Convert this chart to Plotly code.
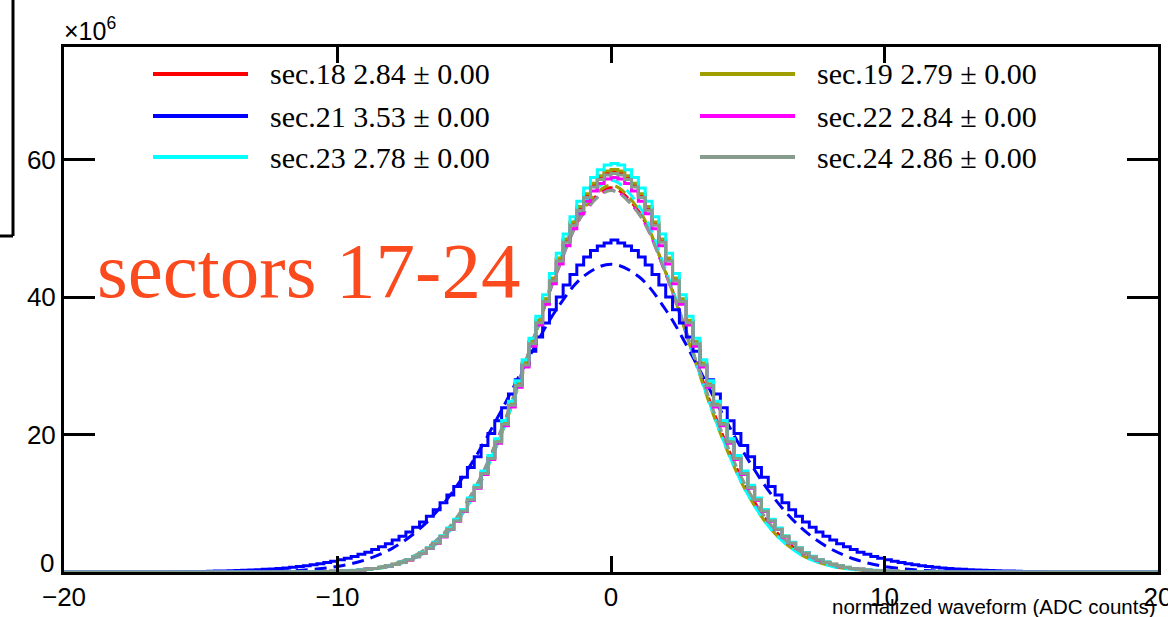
import numpy as np
import plotly.graph_objects as go

# ---------------- data (counts in units of 10^6, bin width 0.25) ----------------
X_MIN, X_MAX, BIN_W = -20.0, 20.0, 0.25

SERIES = ["sec.18", "sec.19", "sec.21", "sec.22", "sec.23", "sec.24"]
SIGMA_TXT = ["2.84", "2.79", "3.53", "2.84", "2.78", "2.86"]
ERR_TXT = ["0.00", "0.00", "0.00", "0.00", "0.00", "0.00"]
COLORS = ["#FF0000", "#9E9E00", "#0000FF", "#FF00FF", "#00FFFF", "#879C8C"]

# first bin lower edge of each listed block (bins outside are empty)
START_NARROW = -12.0
START_WIDE = -16.0

sec18 = [0.01, 0.02, 0.02, 0.03, 0.04, 0.05, 0.07, 0.10, 0.13, 0.17, 0.23, 0.30, 0.39, 0.51, 0.67, 0.86,
         1.11, 1.41, 1.78, 2.24, 2.79, 3.46, 4.25, 5.18, 6.26, 7.51, 8.93, 10.55, 12.37, 14.39, 16.61, 19.02,
         21.62, 24.37, 27.28, 30.28, 33.37, 36.47, 39.57, 42.59, 45.49, 48.21, 50.70, 52.91, 54.78, 56.29,
         57.40, 58.07, 58.29,
         58.07, 57.40, 56.29, 54.78, 52.91, 50.70, 48.21, 45.49, 42.59, 39.57, 36.47, 33.37, 30.28, 27.28,
         24.37, 21.62, 19.02, 16.61, 14.39, 12.37, 10.55, 8.93, 7.51, 6.26, 5.18, 4.25, 3.46, 2.79, 2.24,
         1.78, 1.41, 1.11, 0.86, 0.67, 0.51, 0.39, 0.30, 0.23, 0.17, 0.13, 0.10, 0.07, 0.05, 0.04, 0.03,
         0.02, 0.02]
sec19 = [0.01, 0.02, 0.02, 0.03, 0.04, 0.05, 0.07, 0.10, 0.13, 0.17, 0.23, 0.30, 0.39, 0.52, 0.68, 0.87,
         1.11, 1.41, 1.79, 2.25, 2.81, 3.47, 4.27, 5.20, 6.29, 7.54, 8.98, 10.61, 12.43, 14.46, 16.70, 19.12,
         21.73, 24.49, 27.41, 30.43, 33.53, 36.65, 39.76, 42.80, 45.71, 48.45, 50.95, 53.18, 55.06, 56.57,
         57.68, 58.36, 58.58,
         58.36, 57.68, 56.57, 55.06, 53.18, 50.95, 48.45, 45.71, 42.80, 39.76, 36.65, 33.53, 30.43, 27.41,
         24.49, 21.73, 19.12, 16.70, 14.46, 12.43, 10.61, 8.98, 7.54, 6.29, 5.20, 4.27, 3.47, 2.81, 2.25,
         1.79, 1.41, 1.11, 0.87, 0.68, 0.52, 0.39, 0.30, 0.23, 0.17, 0.13, 0.10, 0.07, 0.05, 0.04, 0.03,
         0.02, 0.02]
sec21 = [0.04, 0.05, 0.06, 0.07, 0.09, 0.11, 0.13, 0.15, 0.18, 0.21, 0.24, 0.28, 0.33, 0.39, 0.45, 0.52,
         0.60, 0.69, 0.80, 0.91, 1.05, 1.20, 1.37, 1.56, 1.77, 2.01, 2.27, 2.57, 2.89, 3.27, 3.67, 4.12,
         4.64, 5.19, 5.82, 6.52, 7.29, 8.13, 9.06, 10.09, 11.22, 12.44, 13.78, 15.21, 16.76, 18.40, 20.16,
         22.00, 23.92, 25.91, 27.96, 30.03, 32.12, 34.19, 36.22, 38.17, 40.03, 41.75, 43.31, 44.69, 45.85,
         46.77, 47.45, 47.86, 48.30,
         47.86, 47.45, 46.77, 45.85, 44.69, 43.31, 41.75, 40.03, 38.17, 36.22, 34.19, 32.12, 30.03, 27.96,
         25.91, 23.92, 22.00, 20.16, 18.40, 16.76, 15.21, 13.78, 12.44, 11.22, 10.09, 9.06, 8.13, 7.29,
         6.52, 5.82, 5.19, 4.64, 4.12, 3.67, 3.27, 2.89, 2.57, 2.27, 2.01, 1.77, 1.56, 1.37, 1.20, 1.05,
         0.91, 0.80, 0.69, 0.60, 0.52, 0.45, 0.39, 0.33, 0.28, 0.24, 0.21, 0.18, 0.15, 0.13, 0.11, 0.09,
         0.07, 0.06, 0.05]
sec22 = [0.01, 0.02, 0.02, 0.03, 0.04, 0.05, 0.07, 0.10, 0.13, 0.17, 0.23, 0.30, 0.39, 0.50, 0.66, 0.85,
         1.09, 1.39, 1.75, 2.21, 2.75, 3.41, 4.19, 5.10, 6.17, 7.40, 8.80, 10.40, 12.19, 14.18, 16.36, 18.74,
         21.29, 24.01, 26.87, 29.83, 32.87, 35.93, 38.98, 41.96, 44.81, 47.49, 49.95, 52.12, 53.96, 55.45,
         56.54, 57.20, 57.42,
         57.20, 56.54, 55.45, 53.96, 52.12, 49.95, 47.49, 44.81, 41.96, 38.98, 35.93, 32.87, 29.83, 26.87,
         24.01, 21.29, 18.74, 16.36, 14.18, 12.19, 10.40, 8.80, 7.40, 6.17, 5.10, 4.19, 3.41, 2.75, 2.21,
         1.75, 1.39, 1.09, 0.85, 0.66, 0.50, 0.39, 0.30, 0.23, 0.17, 0.13, 0.10, 0.07, 0.05, 0.04, 0.03,
         0.02, 0.02]
sec23 = [0.01, 0.02, 0.02, 0.03, 0.04, 0.05, 0.07, 0.10, 0.13, 0.17, 0.24, 0.31, 0.40, 0.52, 0.69, 0.88,
         1.13, 1.44, 1.81, 2.29, 2.85, 3.53, 4.34, 5.28, 6.39, 7.66, 9.11, 10.76, 12.62, 14.68, 16.94, 19.40,
         22.05, 24.86, 27.82, 30.88, 34.03, 37.20, 40.35, 43.44, 46.39, 49.17, 51.71, 53.97, 55.87, 57.41,
         58.54, 59.22, 59.45,
         59.22, 58.54, 57.41, 55.87, 53.97, 51.71, 49.17, 46.39, 43.44, 40.35, 37.20, 34.03, 30.88, 27.82,
         24.86, 22.05, 19.40, 16.94, 14.68, 12.62, 10.76, 9.11, 7.66, 6.39, 5.28, 4.34, 3.53, 2.85, 2.29,
         1.81, 1.44, 1.13, 0.88, 0.69, 0.52, 0.40, 0.31, 0.24, 0.17, 0.13, 0.10, 0.07, 0.05, 0.04, 0.03,
         0.02, 0.02]
sec24 = [0.01, 0.02, 0.02, 0.03, 0.04, 0.05, 0.07, 0.10, 0.13, 0.17, 0.23, 0.30, 0.39, 0.51, 0.67, 0.86,
         1.10, 1.40, 1.77, 2.23, 2.78, 3.44, 4.23, 5.15, 6.23, 7.47, 8.89, 10.50, 12.31, 14.32, 16.53, 18.93,
         21.51, 24.25, 27.14, 30.13, 33.20, 36.29, 39.37, 42.38, 45.26, 47.97, 50.45, 52.65, 54.51, 56.01,
         57.11, 57.78, 58.00,
         57.78, 57.11, 56.01, 54.51, 52.65, 50.45, 47.97, 45.26, 42.38, 39.37, 36.29, 33.20, 30.13, 27.14,
         24.25, 21.51, 18.93, 16.53, 14.32, 12.31, 10.50, 8.89, 7.47, 6.23, 5.15, 4.23, 3.44, 2.78, 2.23,
         1.77, 1.40, 1.10, 0.86, 0.67, 0.51, 0.39, 0.30, 0.23, 0.17, 0.13, 0.10, 0.07, 0.05, 0.04, 0.03,
         0.02, 0.02]

HISTS = [sec18, sec19, sec21, sec22, sec23, sec24]
STARTS = [START_NARROW, START_NARROW, START_WIDE, START_NARROW, START_NARROW, START_NARROW]

# Gaussian fit curves (dashed), sampled at integer x
FIT_X_NARROW = [-12, -11, -10, -9, -8, -7, -6, -5, -4, -3, -2, -1, 0, 1, 2, 3, 4, 5, 6, 7, 8, 9, 10, 11, 12]
FIT_X_WIDE = [-15, -14, -13, -12, -11, -10, -9, -8, -7, -6, -5, -4, -3, -2, -1, 0,
              1, 2, 3, 4, 5, 6, 7, 8, 9, 10, 11, 12, 13, 14, 15]
fit18 = [0.01, 0.03, 0.11, 0.37, 1.06, 2.68, 6.00, 11.86, 20.73, 32.00, 43.62, 52.54, 55.90,
         52.54, 43.62, 32.00, 20.73, 11.86, 6.00, 2.68, 1.06, 0.37, 0.11, 0.03, 0.01]
fit19 = [0.01, 0.02, 0.09, 0.31, 0.92, 2.42, 5.57, 11.30, 20.15, 31.58, 43.54, 52.80, 56.30,
         52.80, 43.54, 31.58, 20.15, 11.30, 5.57, 2.42, 0.92, 0.31, 0.09, 0.02, 0.01]
fit21 = [0.01, 0.02, 0.05, 0.14, 0.35, 0.81, 1.74, 3.44, 6.27, 10.57, 16.43, 23.57, 31.22, 38.16, 43.04,
         44.80,
         43.04, 38.16, 31.22, 23.57, 16.43, 10.57, 6.27, 3.44, 1.74, 0.81, 0.35, 0.14, 0.05, 0.02, 0.01]
fit22 = [0.01, 0.03, 0.11, 0.37, 1.05, 2.67, 5.97, 11.80, 20.62, 31.82, 43.39, 52.26, 55.60,
         52.26, 43.39, 31.82, 20.62, 11.80, 5.97, 2.67, 1.05, 0.37, 0.11, 0.03, 0.01]
fit23 = [0.01, 0.02, 0.09, 0.30, 0.91, 2.39, 5.55, 11.31, 20.25, 31.84, 44.00, 53.43, 57.00,
         53.43, 44.00, 31.84, 20.25, 11.31, 5.55, 2.39, 0.91, 0.30, 0.09, 0.02, 0.01]
fit24 = [0.01, 0.03, 0.12, 0.39, 1.11, 2.78, 6.15, 12.04, 20.87, 32.02, 43.46, 52.21, 55.50,
         52.21, 43.46, 32.02, 20.87, 12.04, 6.15, 2.78, 1.11, 0.39, 0.12, 0.03, 0.01]
FITS = [fit18, fit19, fit21, fit22, fit23, fit24]
FIT_XS = [FIT_X_NARROW, FIT_X_NARROW, FIT_X_WIDE, FIT_X_NARROW, FIT_X_NARROW, FIT_X_NARROW]

X_TICKS = [-20, -10, 0, 10, 20]
Y_TICKS = [0, 20, 40, 60]
Y_TICK_TEXT = ["", "20", "40", "60"]   # the "0" label is placed by hand (ROOT puts it above the axis)
Y_MAX = 76.4

# ---------------- figure ----------------
W, H = 1168, 617
ML, MR, MT, MB = 64, 10, 47, 45
PW, PH = W - ML - MR, H - MT - MB

n_bins = int(round((X_MAX - X_MIN) / BIN_W))
edges = X_MIN + BIN_W * np.arange(n_bins + 1)

fig = go.Figure()
# fits first (under the histograms)
for col, fx, fy in zip(COLORS, FIT_XS, FITS):
    fig.add_trace(go.Scatter(x=fx, y=fy, mode="lines",
                             line=dict(color=col, width=3, dash="12px,7px", shape="spline", smoothing=1.0),
                             showlegend=False, hoverinfo="skip"))
for name, vals, start, col in zip(SERIES, HISTS, STARTS, COLORS):
    counts = np.zeros(n_bins)
    i0 = int(round((start - X_MIN) / BIN_W))
    counts[i0:i0 + len(vals)] = vals
    xs = np.concatenate([[edges[0]], edges[:-1], [edges[-1]], [edges[-1]]])
    ys = np.concatenate([[0.0], counts, [counts[-1]], [0.0]])
    fig.add_trace(go.Scatter(x=xs, y=ys, mode="lines", line=dict(color=col, width=3, shape="hv"),
                             name=name, showlegend=False, hoverinfo="skip"))

axis_common = dict(showline=True, linecolor="black", linewidth=3, mirror="ticks", ticks="inside",
                   tickcolor="black", tickwidth=3, showgrid=False, zeroline=False,
                   ticklabeloverflow="allow", automargin=False,
                   tickfont=dict(family="Liberation Sans, Arial, sans-serif", size=26, color="black"))
fig.update_layout(
    width=W, height=H, margin=dict(l=ML, r=MR, t=MT, b=MB, autoexpand=False),
    paper_bgcolor="white", plot_bgcolor="white", showlegend=False,
    xaxis=dict(range=[X_MIN, X_MAX], tickvals=X_TICKS, ticklen=16, **axis_common),
    yaxis=dict(range=[0, Y_MAX], tickvals=Y_TICKS, ticktext=Y_TICK_TEXT, ticklen=31, **axis_common),
)

def px(xp):
    return (xp - ML) / PW

def py(yp):
    return (H - MB - yp) / PH

# "0" y-label, sitting on the axis as in ROOT
fig.add_annotation(xref="paper", yref="paper", x=px(56), y=py(563), xanchor="right", yanchor="middle",
                   text="0", showarrow=False,
                   font=dict(family="Liberation Sans, Arial, sans-serif", size=26, color="black"))

# legend drawn by hand (two columns, ROOT style)
rows = [74, 116, 157]
cols = [(153, 248, 268), (700, 795, 815)]
for i, (name, sig, err, col) in enumerate(zip(SERIES, SIGMA_TXT, ERR_TXT, COLORS)):
    r, c = divmod(i, 2)
    x0, x1, xt = cols[c]
    yy = rows[r]
    fig.add_shape(type="line", xref="paper", yref="paper", x0=px(x0), x1=px(x1), y0=py(yy), y1=py(yy),
                  line=dict(color=col, width=4))
    fig.add_annotation(xref="paper", yref="paper", x=px(xt), y=py(yy), xanchor="left", yanchor="middle",
                       text=f"{name} {sig} ± {err}", showarrow=False,
                       font=dict(family="Liberation Serif, Times New Roman, serif", size=30, color="black"))

fig.add_annotation(xref="paper", yref="paper", x=px(95), y=py(270), xanchor="left", yanchor="middle",
                   text="sectors 17-24", showarrow=False,
                   font=dict(family="Liberation Serif, Times New Roman, serif", size=79, color="#FA4A1E"))

fig.add_annotation(xref="paper", yref="paper", x=px(62), y=py(47), xanchor="left", yanchor="bottom",
                   text="×10<sup>6</sup>", showarrow=False,
                   font=dict(family="Liberation Sans, Arial, sans-serif", size=25, color="black"))

fig.add_annotation(xref="paper", yref="paper", x=px(1158), y=py(606), xanchor="right", yanchor="middle",
                   text="normalized waveform (ADC counts)", showarrow=False,
                   font=dict(family="Liberation Sans, Arial, sans-serif", size=20.5, color="black"))

# stray stats-box edge at the left of the canvas
fig.add_shape(type="line", xref="paper", yref="paper", x0=px(13), x1=px(13), y0=py(0), y1=py(236),
              line=dict(color="black", width=3))
fig.add_shape(type="line", xref="paper", yref="paper", x0=px(0), x1=px(13), y0=py(236), y1=py(236),
              line=dict(color="black", width=3))

fig.write_html("out.html")
